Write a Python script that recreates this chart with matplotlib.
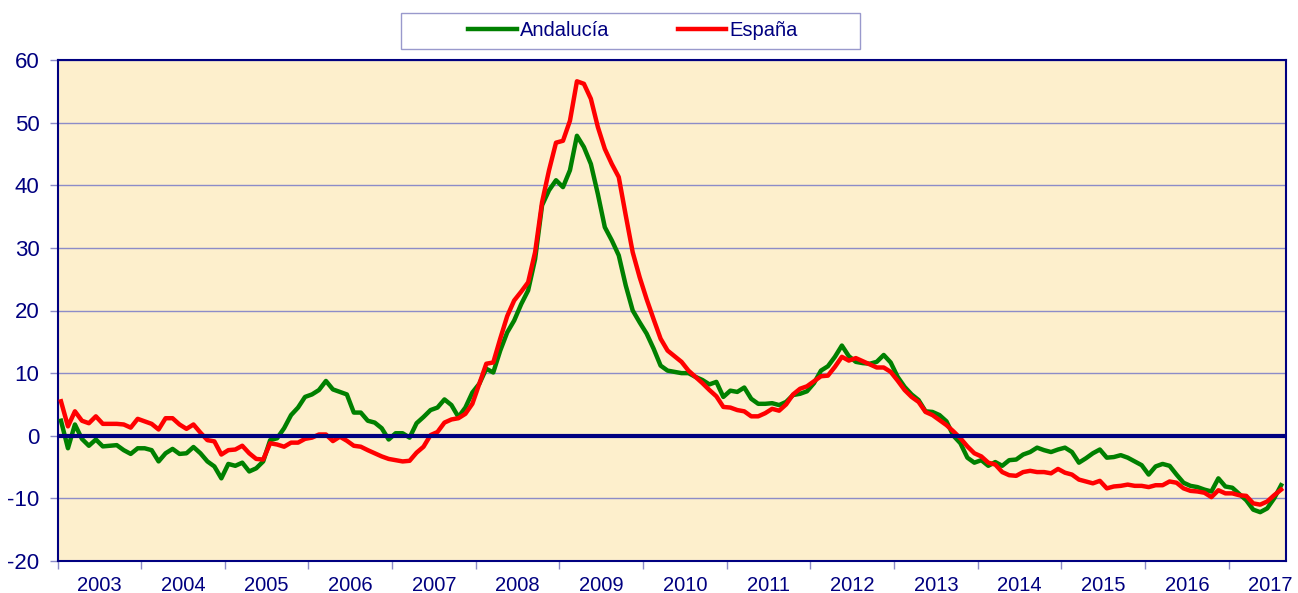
import matplotlib.pyplot as plt
from matplotlib.patches import Rectangle

# datos mensuales ene-2003 .. ago-2017 (tasa interanual, %)
years = [str(y) for y in range(2003, 2018)]

andalucia = [
    2.4, -2.0, 1.8, -0.5, -1.6, -0.6, -1.7, -1.6, -1.5, -2.3, -2.9, -2.0,
    -2.0, -2.3, -4.1, -2.8, -2.1, -2.9, -2.8, -1.8, -2.8, -4.1, -4.9, -6.8,
    -4.5, -4.8, -4.3, -5.7, -5.2, -4.1, -0.7, -0.4, 1.2, 3.3, 4.5, 6.2,
    6.6, 7.3, 8.75, 7.4, 7.0, 6.6, 3.7, 3.7, 2.4, 2.1, 1.2, -0.6,
    0.4, 0.4, -0.3, 2.0, 3.0, 4.1, 4.5, 5.8, 4.9, 3.0, 4.5, 6.9,
    8.3, 10.7, 10.1, 13.6, 16.5, 18.4, 21.0, 23.2, 28.2, 36.8, 39.2, 40.8,
    39.7, 42.4, 47.9, 46.1, 43.4, 38.6, 33.3, 31.2, 28.8, 24.0, 20.0, 18.1,
    16.3, 13.9, 11.2, 10.4, 10.2, 10.0, 10.0, 9.4, 8.9, 8.2, 8.6, 6.2,
    7.2, 7.0, 7.7, 5.9, 5.1, 5.1, 5.2, 4.9, 5.4, 6.5, 6.7, 7.1,
    8.4, 10.4, 11.1, 12.6, 14.4, 12.7, 11.8, 11.6, 11.5, 11.8, 12.9, 11.7,
    9.4, 7.8, 6.6, 5.7, 3.9, 3.8, 3.3, 2.3, 0.0, -1.2, -3.5, -4.3,
    -3.9, -4.8, -4.2, -4.8, -3.9, -3.8, -3.0, -2.6, -1.9, -2.3, -2.6, -2.2,
    -1.9, -2.6, -4.3, -3.6, -2.8, -2.2, -3.5, -3.4, -3.1, -3.5, -4.1, -4.7,
    -6.2, -4.9, -4.5, -4.8, -6.2, -7.5, -8.0, -8.2, -8.6, -8.9, -6.8, -8.1,
    -8.3, -9.3, -10.3, -11.8, -12.2, -11.6, -10.0, -7.9,
]

espana = [
    5.5, 1.5, 3.9, 2.4, 2.0, 3.1, 1.9, 1.9, 1.9, 1.8, 1.3, 2.7,
    2.3, 1.9, 1.0, 2.8, 2.8, 1.8, 1.1, 1.8, 0.5, -0.7, -0.9, -3.0,
    -2.3, -2.2, -1.6, -2.8, -3.7, -3.8, -1.2, -1.4, -1.75, -1.1, -1.1, -0.5,
    -0.3, 0.2, 0.2, -0.85, -0.15, -0.8, -1.6, -1.75, -2.3, -2.8, -3.3, -3.7,
    -3.9, -4.1, -4.0, -2.7, -1.75, 0.1, 0.6, 2.1, 2.6, 2.8, 3.5, 5.1,
    8.3, 11.5, 11.7, 15.5, 19.1, 21.6, 23.0, 24.5, 29.3, 37.3, 42.4, 46.8,
    47.1, 50.3, 56.6, 56.2, 53.8, 49.3, 45.8, 43.4, 41.3, 35.2, 29.3, 25.3,
    21.8, 18.6, 15.5, 13.6, 12.7, 11.8, 10.4, 9.4, 8.4, 7.3, 6.3, 4.6,
    4.5, 4.1, 3.9, 3.1, 3.1, 3.6, 4.3, 4.0, 5.0, 6.6, 7.5, 7.9,
    8.7, 9.5, 9.6, 11.0, 12.6, 12.0, 12.4, 11.9, 11.4, 10.9, 10.9, 10.2,
    8.8, 7.3, 6.2, 5.4, 3.8, 3.3, 2.5, 1.7, 0.7, -0.4, -1.7, -2.8,
    -3.3, -4.3, -4.6, -5.8, -6.3, -6.4, -5.8, -5.6, -5.8, -5.8, -6.0, -5.3,
    -5.9, -6.2, -7.0, -7.3, -7.6, -7.2, -8.4, -8.1, -8.0, -7.8, -8.0, -8.0,
    -8.2, -7.9, -7.9, -7.3, -7.5, -8.4, -8.8, -8.9, -9.1, -9.8, -8.7, -9.2,
    -9.2, -9.5, -9.6, -10.8, -11.0, -10.5, -9.5, -8.6,
]

navy = '#000080'
W, H = 1298, 593

plt.rcParams['font.family'] = ['Liberation Sans', 'DejaVu Sans']
plt.rcParams['axes.unicode_minus'] = False

fig = plt.figure(figsize=(W / 100, H / 100), dpi=100)

L, R, T, B = 57.5, 1286, 60, 561
ax = fig.add_axes([L / W, 1 - B / H, (R - L) / W, (B - T) / H])
ax.set_facecolor('#FDEFCC')

meses = range(len(andalucia))
ax.plot(meses, andalucia, color='#008000', lw=3.2, label='Andalucía', zorder=3)
ax.plot(meses, espana, color='#FF0000', lw=3.2, label='España', zorder=4)

ax.set_ylim(-20, 60)
ax.set_yticks(range(-20, 61, 10))
ax.set_xlim(-0.5, 175.7)
ax.grid(axis='y', color='#8C8CC8', lw=1)
ax.axhline(0, color=navy, lw=3, zorder=5)

ax.set_xticks([-0.5 + 12 * k for k in range(15)])
ax.set_xticklabels([])
ax.set_xticks([5.5 + 12 * k for k in range(15)], minor=True)
ax.set_xticklabels(years, minor=True)
ax.tick_params(axis='x', which='major', length=6, color='#8C8CC8', width=1)
ax.tick_params(axis='x', which='minor', length=0, pad=11, labelsize=14.5, labelcolor=navy)
ax.tick_params(axis='y', length=6, color='#8C8CC8', width=1, pad=7,
               labelsize=16, labelcolor=navy)

for s in ax.spines.values():
    s.set_color(navy)
    s.set_linewidth(1.5)

# caja de la leyenda
fig.patches.append(Rectangle((401 / W, 1 - 49 / H), 459 / W, 36 / H,
                             transform=fig.transFigure, facecolor='white',
                             edgecolor='#9999CC', lw=1))
fig.legend(loc='center', bbox_to_anchor=(633 / W, 1 - 31 / H), ncol=2,
           frameon=False, fontsize=14.5, labelcolor=navy,
           handlelength=2.4, handletextpad=0.15, columnspacing=3.4)

fig.savefig('out.png', dpi=100)
